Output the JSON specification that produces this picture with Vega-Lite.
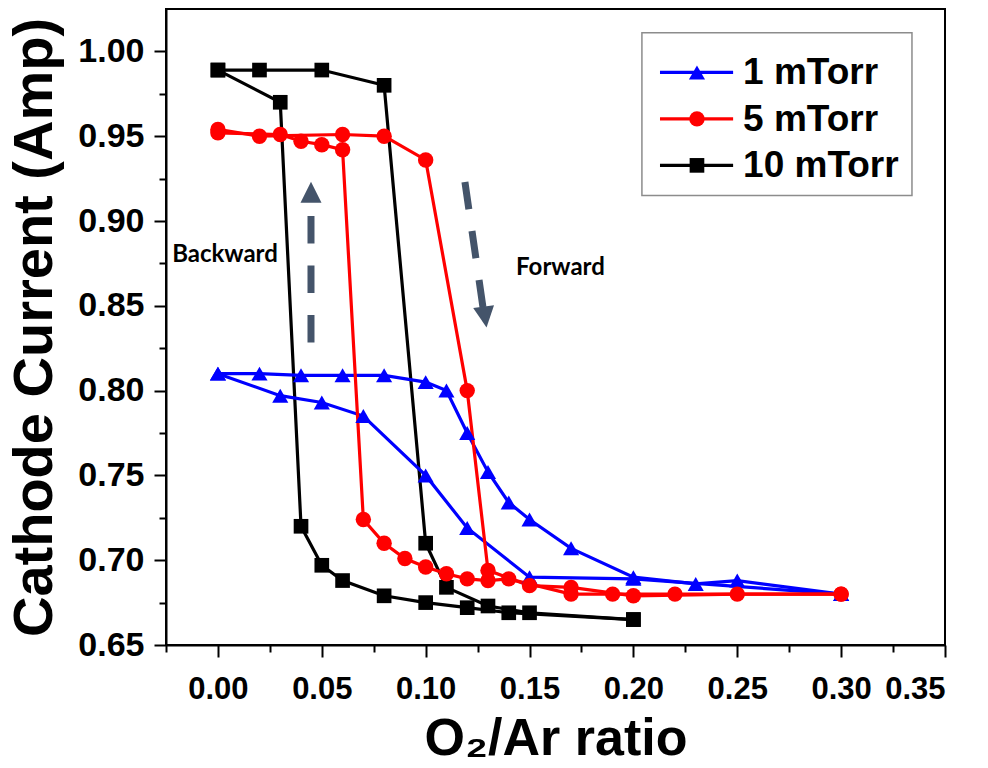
{
  "$schema": "https://vega.github.io/schema/vega-lite/v6.json",
  "width": 779,
  "height": 636,
  "autosize": {"type": "none"},
  "padding": {"left": 166, "top": 9, "right": 43, "bottom": 123},
  "background": "white",
  "config": {
    "view": {"stroke": "black", "strokeWidth": 2},
    "axis": {"grid": false, "domainColor": "black", "domainWidth": 2, "tickColor": "black", "tickWidth": 2, "labelColor": "black", "titleColor": "black"}
  },
  "datasets": {
    "sweep": [
      {"pressure": "10 mTorr", "branch": "forward", "ratio": 0.00, "current": 0.989},
      {"pressure": "10 mTorr", "branch": "forward", "ratio": 0.02, "current": 0.989},
      {"pressure": "10 mTorr", "branch": "forward", "ratio": 0.05, "current": 0.989},
      {"pressure": "10 mTorr", "branch": "forward", "ratio": 0.08, "current": 0.980},
      {"pressure": "10 mTorr", "branch": "forward", "ratio": 0.10, "current": 0.710},
      {"pressure": "10 mTorr", "branch": "forward", "ratio": 0.11, "current": 0.684},
      {"pressure": "10 mTorr", "branch": "forward", "ratio": 0.13, "current": 0.673},
      {"pressure": "10 mTorr", "branch": "forward", "ratio": 0.15, "current": 0.669},
      {"pressure": "10 mTorr", "branch": "forward", "ratio": 0.20, "current": 0.665},
      {"pressure": "10 mTorr", "branch": "backward", "ratio": 0.20, "current": 0.665},
      {"pressure": "10 mTorr", "branch": "backward", "ratio": 0.14, "current": 0.669},
      {"pressure": "10 mTorr", "branch": "backward", "ratio": 0.12, "current": 0.672},
      {"pressure": "10 mTorr", "branch": "backward", "ratio": 0.10, "current": 0.675},
      {"pressure": "10 mTorr", "branch": "backward", "ratio": 0.08, "current": 0.679},
      {"pressure": "10 mTorr", "branch": "backward", "ratio": 0.06, "current": 0.688},
      {"pressure": "10 mTorr", "branch": "backward", "ratio": 0.05, "current": 0.697},
      {"pressure": "10 mTorr", "branch": "backward", "ratio": 0.04, "current": 0.720},
      {"pressure": "10 mTorr", "branch": "backward", "ratio": 0.03, "current": 0.970},
      {"pressure": "10 mTorr", "branch": "backward", "ratio": 0.00, "current": 0.989},

      {"pressure": "1 mTorr", "branch": "forward", "ratio": 0.00, "current": 0.810},
      {"pressure": "1 mTorr", "branch": "forward", "ratio": 0.02, "current": 0.810},
      {"pressure": "1 mTorr", "branch": "forward", "ratio": 0.04, "current": 0.809},
      {"pressure": "1 mTorr", "branch": "forward", "ratio": 0.06, "current": 0.809},
      {"pressure": "1 mTorr", "branch": "forward", "ratio": 0.08, "current": 0.809},
      {"pressure": "1 mTorr", "branch": "forward", "ratio": 0.10, "current": 0.805},
      {"pressure": "1 mTorr", "branch": "forward", "ratio": 0.11, "current": 0.800},
      {"pressure": "1 mTorr", "branch": "forward", "ratio": 0.12, "current": 0.775},
      {"pressure": "1 mTorr", "branch": "forward", "ratio": 0.13, "current": 0.752},
      {"pressure": "1 mTorr", "branch": "forward", "ratio": 0.14, "current": 0.734},
      {"pressure": "1 mTorr", "branch": "forward", "ratio": 0.15, "current": 0.724},
      {"pressure": "1 mTorr", "branch": "forward", "ratio": 0.17, "current": 0.707},
      {"pressure": "1 mTorr", "branch": "forward", "ratio": 0.20, "current": 0.690},
      {"pressure": "1 mTorr", "branch": "forward", "ratio": 0.23, "current": 0.686},
      {"pressure": "1 mTorr", "branch": "forward", "ratio": 0.25, "current": 0.688},
      {"pressure": "1 mTorr", "branch": "forward", "ratio": 0.30, "current": 0.680},
      {"pressure": "1 mTorr", "branch": "backward", "ratio": 0.30, "current": 0.680},
      {"pressure": "1 mTorr", "branch": "backward", "ratio": 0.20, "current": 0.689},
      {"pressure": "1 mTorr", "branch": "backward", "ratio": 0.15, "current": 0.690},
      {"pressure": "1 mTorr", "branch": "backward", "ratio": 0.12, "current": 0.719},
      {"pressure": "1 mTorr", "branch": "backward", "ratio": 0.10, "current": 0.750},
      {"pressure": "1 mTorr", "branch": "backward", "ratio": 0.07, "current": 0.785},
      {"pressure": "1 mTorr", "branch": "backward", "ratio": 0.05, "current": 0.793},
      {"pressure": "1 mTorr", "branch": "backward", "ratio": 0.03, "current": 0.797},
      {"pressure": "1 mTorr", "branch": "backward", "ratio": 0.00, "current": 0.810},

      {"pressure": "5 mTorr", "branch": "forward", "ratio": 0.00, "current": 0.954},
      {"pressure": "5 mTorr", "branch": "forward", "ratio": 0.02, "current": 0.950},
      {"pressure": "5 mTorr", "branch": "forward", "ratio": 0.06, "current": 0.951},
      {"pressure": "5 mTorr", "branch": "forward", "ratio": 0.08, "current": 0.950},
      {"pressure": "5 mTorr", "branch": "forward", "ratio": 0.10, "current": 0.936},
      {"pressure": "5 mTorr", "branch": "forward", "ratio": 0.12, "current": 0.800},
      {"pressure": "5 mTorr", "branch": "forward", "ratio": 0.13, "current": 0.694},
      {"pressure": "5 mTorr", "branch": "forward", "ratio": 0.15, "current": 0.685},
      {"pressure": "5 mTorr", "branch": "forward", "ratio": 0.17, "current": 0.684},
      {"pressure": "5 mTorr", "branch": "forward", "ratio": 0.20, "current": 0.679},
      {"pressure": "5 mTorr", "branch": "forward", "ratio": 0.25, "current": 0.680},
      {"pressure": "5 mTorr", "branch": "forward", "ratio": 0.30, "current": 0.680},
      {"pressure": "5 mTorr", "branch": "backward", "ratio": 0.30, "current": 0.680},
      {"pressure": "5 mTorr", "branch": "backward", "ratio": 0.22, "current": 0.680},
      {"pressure": "5 mTorr", "branch": "backward", "ratio": 0.19, "current": 0.680},
      {"pressure": "5 mTorr", "branch": "backward", "ratio": 0.17, "current": 0.680},
      {"pressure": "5 mTorr", "branch": "backward", "ratio": 0.14, "current": 0.689},
      {"pressure": "5 mTorr", "branch": "backward", "ratio": 0.13, "current": 0.688},
      {"pressure": "5 mTorr", "branch": "backward", "ratio": 0.12, "current": 0.689},
      {"pressure": "5 mTorr", "branch": "backward", "ratio": 0.11, "current": 0.692},
      {"pressure": "5 mTorr", "branch": "backward", "ratio": 0.10, "current": 0.696},
      {"pressure": "5 mTorr", "branch": "backward", "ratio": 0.09, "current": 0.701},
      {"pressure": "5 mTorr", "branch": "backward", "ratio": 0.08, "current": 0.710},
      {"pressure": "5 mTorr", "branch": "backward", "ratio": 0.07, "current": 0.724},
      {"pressure": "5 mTorr", "branch": "backward", "ratio": 0.06, "current": 0.942},
      {"pressure": "5 mTorr", "branch": "backward", "ratio": 0.05, "current": 0.945},
      {"pressure": "5 mTorr", "branch": "backward", "ratio": 0.04, "current": 0.947},
      {"pressure": "5 mTorr", "branch": "backward", "ratio": 0.03, "current": 0.951},
      {"pressure": "5 mTorr", "branch": "backward", "ratio": 0.00, "current": 0.952}
    ],
    "key": [
      {"pressure": "1 mTorr", "current": 0.9876},
      {"pressure": "5 mTorr", "current": 0.9602},
      {"pressure": "10 mTorr", "current": 0.9328}
    ]
  },
  "resolve": {"axis": {"x": "independent", "y": "independent"}},
  "layer": [
    {
      "data": {"name": "sweep"},
      "mark": {"type": "line", "strokeWidth": 3.2},
      "encoding": {
        "x": {
          "field": "ratio", "type": "quantitative",
          "scale": {"domain": [-0.025, 0.35], "nice": false, "zero": false},
          "axis": {
            "orient": "bottom",
            "title": "O₂/Ar ratio",
            "values": [0, 0.05, 0.1, 0.15, 0.2, 0.25, 0.3, 0.35],
            "format": ".2f",
            "tickSize": 12,
            "labelPadding": 17,
            "labelFont": "Liberation Sans", "labelFontWeight": "bold", "labelFontSize": 31,
            "titleFont": "Liberation Sans", "titleFontWeight": "bold", "titleFontSize": 52,
            "titlePadding": 9
          }
        },
        "y": {
          "field": "current", "type": "quantitative",
          "scale": {"domain": [0.65, 1.025], "nice": false, "zero": false},
          "axis": {
            "orient": "left",
            "title": "Cathode Current (Amp)",
            "values": [0.65, 0.7, 0.75, 0.8, 0.85, 0.9, 0.95, 1.0],
            "format": ".2f",
            "tickSize": 12,
            "labelPadding": 10,
            "labelFont": "Liberation Sans", "labelFontWeight": "bold", "labelFontSize": 34,
            "titleFont": "Liberation Sans", "titleFontWeight": "bold", "titleFontSize": 56,
            "titlePadding": 14
          }
        },
        "color": {
          "field": "pressure", "type": "nominal", "legend": null,
          "scale": {"domain": ["1 mTorr", "5 mTorr", "10 mTorr"], "range": ["#0000ff", "#ff0000", "#000000"]}
        },
        "detail": {"field": "branch", "type": "nominal"}
      }
    },
    {
      "data": {"name": "sweep"},
      "mark": {"type": "point", "filled": true, "opacity": 1, "strokeWidth": 0},
      "encoding": {
        "x": {
          "field": "ratio", "type": "quantitative",
          "scale": {"domain": [-0.025, 0.35], "nice": false, "zero": false},
          "axis": {"orient": "bottom", "title": null, "labels": false, "domain": false, "tickSize": 7,
                   "values": [-0.025, 0.025, 0.075, 0.125, 0.175, 0.225, 0.275, 0.325]}
        },
        "y": {
          "field": "current", "type": "quantitative",
          "scale": {"domain": [0.65, 1.025], "nice": false, "zero": false},
          "axis": {"orient": "left", "title": null, "labels": false, "domain": false, "tickSize": 7,
                   "values": [0.675, 0.725, 0.775, 0.825, 0.875, 0.925, 0.975]}
        },
        "color": {"field": "pressure", "type": "nominal", "legend": null},
        "shape": {
          "field": "pressure", "type": "nominal", "legend": null,
          "scale": {"domain": ["1 mTorr", "5 mTorr", "10 mTorr"], "range": ["triangle-up", "circle", "square"]}
        },
        "size": {
          "field": "pressure", "type": "nominal", "legend": null,
          "scale": {"domain": ["1 mTorr", "5 mTorr", "10 mTorr"], "range": [260, 215, 150]}
        }
      }
    },
    {
      "data": {"values": [
        {"arrow": "backward", "x": 0.0448, "y": 0.903, "x2": 0.0448, "y2": 0.828},
        {"arrow": "forward", "x": 0.1189, "y": 0.923, "x2": 0.1276, "y2": 0.849}
      ]},
      "mark": {"type": "rule", "color": "#44546a", "strokeWidth": 7, "strokeDash": [27.5, 22]},
      "encoding": {
        "x": {"field": "x", "type": "quantitative", "axis": null},
        "y": {"field": "y", "type": "quantitative", "axis": null},
        "x2": {"field": "x2"},
        "y2": {"field": "y2"}
      }
    },
    {
      "data": {"values": [{"arrow": "backward", "x": 0.0448, "y": 0.917}]},
      "mark": {"type": "point", "shape": "M0,-1L1,1L-1,1Z", "size": 441, "filled": true, "color": "#44546a", "strokeWidth": 0, "opacity": 1},
      "encoding": {
        "x": {"field": "x", "type": "quantitative", "axis": null},
        "y": {"field": "y", "type": "quantitative", "axis": null}
      }
    },
    {
      "data": {"values": [{"arrow": "forward", "x": 0.1286, "y": 0.8434}]},
      "mark": {"type": "point", "shape": "M0,1L1,-1L-1,-1Z", "size": 441, "angle": 352, "filled": true, "color": "#44546a", "strokeWidth": 0, "opacity": 1},
      "encoding": {
        "x": {"field": "x", "type": "quantitative", "axis": null},
        "y": {"field": "y", "type": "quantitative", "axis": null}
      }
    },
    {
      "data": {"values": [
        {"label": "Backward", "x": 0.0034, "y": 0.880},
        {"label": "Forward", "x": 0.1649, "y": 0.872}
      ]},
      "mark": {"type": "text", "font": "Lato", "fontWeight": "bold", "fontSize": 24, "color": "black", "align": "center", "baseline": "middle"},
      "encoding": {
        "x": {"field": "x", "type": "quantitative", "axis": null},
        "y": {"field": "y", "type": "quantitative", "axis": null},
        "text": {"field": "label"}
      }
    },
    {
      "description": "Key frame in the upper right corner",
      "data": {"values": [{}]},
      "mark": {"type": "rect", "fill": "white", "stroke": "#8c8c8c", "strokeWidth": 1.5},
      "encoding": {
        "x": {"datum": 0.2041, "type": "quantitative", "axis": null},
        "x2": {"datum": 0.3341},
        "y": {"datum": 1.011, "type": "quantitative", "axis": null},
        "y2": {"datum": 0.9151}
      }
    },
    {
      "description": "Key line samples",
      "data": {"name": "key"},
      "mark": {"type": "rule", "strokeWidth": 3.2},
      "encoding": {
        "x": {"datum": 0.2128, "type": "quantitative", "axis": null},
        "x2": {"datum": 0.2480},
        "y": {"field": "current", "type": "quantitative", "axis": null},
        "color": {"field": "pressure", "type": "nominal", "legend": null}
      }
    },
    {
      "description": "Key marker samples",
      "data": {"name": "key"},
      "mark": {"type": "point", "filled": true, "opacity": 1, "strokeWidth": 0},
      "encoding": {
        "x": {"datum": 0.2306, "type": "quantitative", "axis": null},
        "y": {"field": "current", "type": "quantitative", "axis": null},
        "color": {"field": "pressure", "type": "nominal", "legend": null},
        "shape": {"field": "pressure", "type": "nominal", "legend": null},
        "size": {"field": "pressure", "type": "nominal", "legend": null}
      }
    },
    {
      "description": "Key labels",
      "data": {"name": "key"},
      "mark": {"type": "text", "font": "Liberation Sans", "fontWeight": "bold", "fontSize": 37, "color": "black", "align": "left", "baseline": "middle", "dy": 1},
      "encoding": {
        "x": {"datum": 0.2528, "type": "quantitative", "axis": null},
        "y": {"field": "current", "type": "quantitative", "axis": null},
        "text": {"field": "pressure"}
      }
    }
  ]
}
